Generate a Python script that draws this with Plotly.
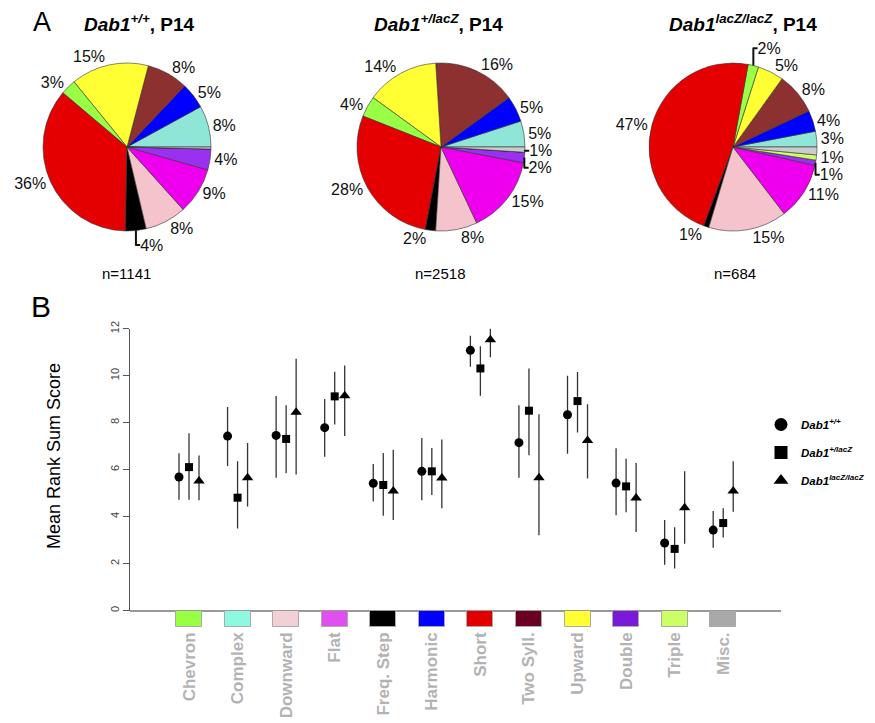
import plotly.graph_objects as go

FONT = "Liberation Sans, Arial, sans-serif"

# ---------------- Panel A data (pie order, counter-clockwise from 3 o'clock) ----------------
pie_order = ["Complex", "Harmonic", "Two Syll.", "Upward", "Chevron", "Short",
             "Freq. Step", "Downward", "Flat", "Double", "Triple", "Misc."]
pie_wt = [8, 5, 8, 15, 3, 36, 4, 8, 9, 4, 0, 0.4]
pie_het = [5, 5, 16, 14, 4, 28, 2, 8, 15, 2, 0, 1]
pie_ko = [3, 4, 8, 5, 2, 47, 1, 15, 11, 1, 1, 1.5]
lab_wt = ["8%", "5%", "8%", "15%", "3%", "36%", "4%", "8%", "9%", "4%", "", ""]
lab_het = ["5%", "5%", "16%", "14%", "4%", "28%", "2%", "8%", "15%", "2%", "", "1%"]
lab_ko = ["3%", "4%", "8%", "5%", "2%", "47%", "1%", "15%", "11%", "1%", "1%", ""]
n_counts = ["n=1141", "n=2518", "n=684"]

pie_colors = {"Complex": "#8fe6d6", "Harmonic": "#0000ff", "Two Syll.": "#8c3030",
              "Upward": "#ffff33", "Chevron": "#99ff44", "Short": "#e40000",
              "Freq. Step": "#000000", "Downward": "#f5c3cc", "Flat": "#ee00ee",
              "Double": "#9a30f0", "Triple": "#ccff66", "Misc.": "#cccccc"}

# ---------------- Panel B data ----------------
categories = ["Chevron", "Complex", "Downward", "Flat", "Freq. Step", "Harmonic",
              "Short", "Two Syll.", "Upward", "Double", "Triple", "Misc."]
box_colors = ["#99ff44", "#8ff8e0", "#f3d0d6", "#e050f0", "#000000", "#0000ff",
              "#e00000", "#6a0022", "#ffff33", "#7a1ad8", "#ccff66", "#a9a9a9"]

wt_mean = [5.69, 7.43, 7.46, 7.79, 5.42, 5.93, 11.08, 7.15, 8.34, 5.43, 2.88, 3.43]
wt_hi = [6.70, 8.67, 9.14, 9.01, 6.24, 7.35, 11.70, 8.74, 10.00, 6.91, 3.86, 4.24]
wt_lo = [4.72, 6.16, 5.66, 6.55, 4.65, 4.70, 10.38, 5.66, 6.68, 4.06, 1.96, 2.68]

het_mean = [6.11, 4.81, 7.31, 9.12, 5.35, 5.93, 10.31, 8.51, 8.92, 5.29, 2.63, 3.73]
het_hi = [7.55, 6.36, 8.74, 10.17, 6.71, 6.92, 11.25, 10.31, 10.16, 6.47, 3.55, 4.36]
het_lo = [4.72, 3.50, 5.85, 7.92, 4.04, 4.92, 9.15, 6.61, 7.58, 4.19, 1.80, 3.11]

ko_mean = [5.52, 5.66, 8.44, 9.15, 5.09, 5.65, 11.53, 5.66, 7.24, 4.80, 4.38, 5.09]
ko_hi = [6.60, 7.14, 10.72, 10.43, 6.85, 7.29, 12.02, 8.36, 8.78, 6.29, 5.93, 6.36]
ko_lo = [4.70, 4.43, 5.80, 7.43, 3.86, 4.36, 10.78, 3.21, 5.63, 3.35, 2.85, 4.21]

genotypes = ["<b><i>Dab1<sup>+/+</sup></i></b>",
             "<b><i>Dab1<sup>+/lacZ</sup></i></b>",
             "<b><i>Dab1<sup>lacZ/lacZ</sup></i></b>"]
symbols = ["circle", "square", "triangle-up"]
sizes = [9, 8, 10]

# page body has an 8px margin: the figure fills the rest of the 875x723 window
OFF = 8
W, H = 875 - OFF, 723 - OFF


def px_x(v):
    return (v - OFF) / W


def px_y(v):
    return 1 - (v - OFF) / H


fig = go.Figure()

# ---------------- Pies ----------------
pie_sets = [(pie_wt, lab_wt), (pie_het, lab_het), (pie_ko, lab_ko)]
centers = [127, 441, 733]
R = 84
CY = 147
for (vals, labs), cx in zip(pie_sets, centers):
    rot = 90 - 360.0 * vals[0] / sum(vals)
    fig.add_trace(go.Pie(
        labels=pie_order, values=vals, text=labs, textinfo="text",
        textposition="outside", sort=False, direction="counterclockwise",
        rotation=rot, hole=0,
        marker=dict(colors=[pie_colors[c] for c in pie_order],
                    line=dict(color="#333333", width=0.6)),
        outsidetextfont=dict(family=FONT, size=16, color="#111111"),
        domain=dict(x=[px_x(cx - R), px_x(cx + R)], y=[px_y(CY + R), px_y(CY - R)]),
        showlegend=False, hoverinfo="label+percent",
    ))

# ---------------- Scatter with error bars ----------------
offsets = [-0.206, 0.0, 0.206]
series = [(wt_mean, wt_hi, wt_lo), (het_mean, het_hi, het_lo), (ko_mean, ko_hi, ko_lo)]
for k, (m, hi, lo) in enumerate(series):
    xs = [i + offsets[k] for i in range(len(categories))]
    fig.add_trace(go.Scatter(
        x=xs, y=m, mode="markers",
        marker=dict(symbol=symbols[k], size=sizes[k], color="black"),
        error_y=dict(type="data", symmetric=False,
                     array=[h - v for h, v in zip(hi, m)],
                     arrayminus=[v - l for v, l in zip(m, lo)],
                     color="#333333", thickness=1.3, width=0),
        xaxis="x", yaxis="y", showlegend=False, cliponaxis=False,
        hovertext=categories,
    ))

# legend entries
for k in range(3):
    fig.add_trace(go.Scatter(
        x=[None], y=[None], mode="markers", name=genotypes[k],
        marker=dict(symbol=symbols[k], size=13, color="black"),
        xaxis="x", yaxis="y", legendgroup=str(k), showlegend=True,
    ))

# colored category boxes
fig.add_trace(go.Bar(
    x=list(range(len(categories))), y=[1] * len(categories),
    marker=dict(color=box_colors, line=dict(color="#aaaaaa", width=1)),
    width=0.535, xaxis="x", yaxis="y2", showlegend=False, hoverinfo="skip",
))

fig.update_layout(
    template="none",
    width=W, height=H, margin=dict(l=0, r=0, t=0, b=0, autoexpand=False),
    paper_bgcolor="white", plot_bgcolor="white",
    font=dict(family=FONT, color="black"),
    xaxis=dict(domain=[px_x(130), px_x(781)], range=[-1.215, 12.19], anchor="y2",
               tickmode="array", tickvals=list(range(len(categories))),
               ticktext=["<b>%s</b>" % c for c in categories],
               tickangle=-90, ticks="", showline=False, showgrid=False,
               zeroline=False, tickfont=dict(size=17, color="#b3b3b3"),
               ticklabelstandoff=1, automargin=False),
    yaxis=dict(domain=[px_y(610.7), px_y(328.7)], range=[0, 12], anchor="x",
               tickvals=[0, 2, 4, 6, 8, 10, 12], tickangle=-90,
               ticks="outside", ticklen=6, tickcolor="#555555",
               showline=True, linecolor="#555555", linewidth=1,
               showgrid=False, zeroline=True, zerolinecolor="#999999",
               zerolinewidth=1.5, tickfont=dict(size=11, color="#444444"),
               automargin=False),
    yaxis2=dict(domain=[px_y(627), px_y(611)], range=[0, 1], anchor="x",
                visible=False),
    legend=dict(x=px_x(761), y=px_y(410), xanchor="left", yanchor="top",
                font=dict(size=11.5, color="black"), tracegroupgap=9,
                itemsizing="trace", bgcolor="rgba(0,0,0,0)"),
    bargap=0,
)

annotations = [
    dict(text="A", x=px_x(42), y=px_y(22), font=dict(size=27)),
    dict(text="B", x=px_x(41), y=px_y(306), font=dict(size=30)),
    dict(text="<b><i>Dab1<sup>+/+</sup></i>, P14</b>", x=px_x(139), y=px_y(23),
         font=dict(size=19)),
    dict(text="<b><i>Dab1<sup>+/lacZ</sup></i>, P14</b>", x=px_x(438), y=px_y(23),
         font=dict(size=19)),
    dict(text="<b><i>Dab1<sup>lacZ/lacZ</sup></i>, P14</b>", x=px_x(743), y=px_y(23),
         font=dict(size=19)),
    dict(text="Mean Rank Sum Score", x=px_x(54), y=px_y(456), textangle=-90,
         font=dict(size=18)),
]
for txt, cx in zip(n_counts, [126, 440, 735]):
    annotations.append(dict(text=txt, x=px_x(cx), y=px_y(273), font=dict(size=15)))
for a in annotations:
    a.update(xref="paper", yref="paper", showarrow=False,
             xanchor="center", yanchor="middle")
fig.update_layout(annotations=annotations)

fig.write_html("out.html")
